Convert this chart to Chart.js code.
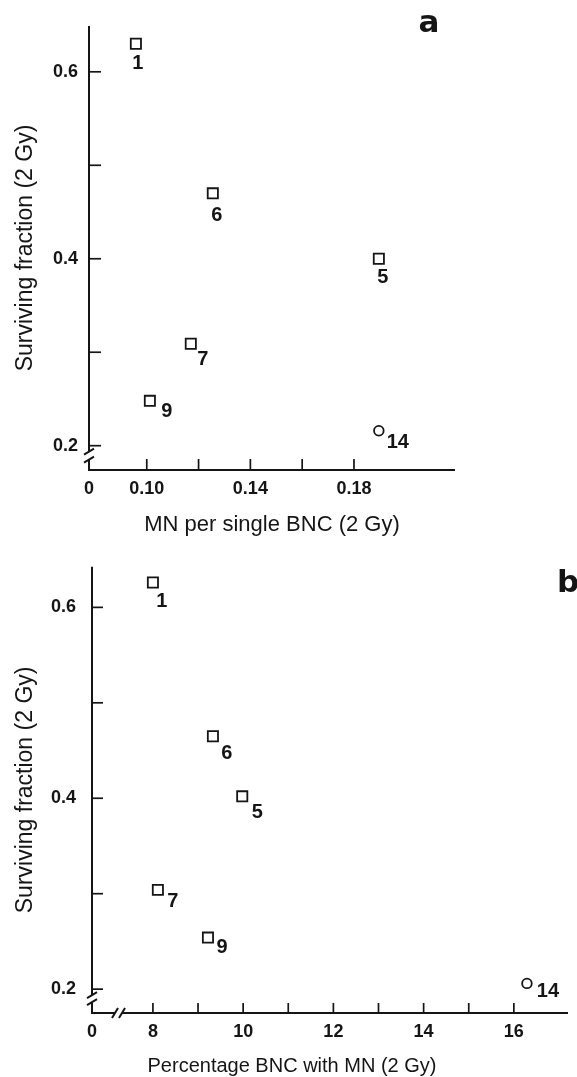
<!DOCTYPE html>
<html>
<head>
<meta charset="utf-8">
<script src="https://cdn.jsdelivr.net/npm/chart.js@4.4.1/dist/chart.umd.min.js"></script>
<style>
html, body { margin: 0; padding: 0; background: #fff; }
.panel { position: absolute; left: 0; width: 577px; }
#wrapA { top: 0; height: 540px; }
#wrapB { top: 540px; height: 537px; }
</style>
</head>
<body>
<div class="panel" id="wrapA"><canvas id="chartA"></canvas></div>
<div class="panel" id="wrapB"><canvas id="chartB"></canvas></div>
<script>
// values
const cellLines = ['1', '6', '5', '7', '9', '14'];
const pointShapes = ['rect', 'rect', 'rect', 'rect', 'rect', 'circle'];

const mnPerBnc = [0.0958, 0.1255, 0.1896, 0.117, 0.1012, 0.1896];
const survivingA = [0.630, 0.470, 0.400, 0.309, 0.248, 0.216];

const pctBncWithMn = [8.0, 9.33, 9.98, 8.11, 9.22, 16.29];
const survivingB = [0.626, 0.465, 0.402, 0.304, 0.254, 0.206];

const yTicks = [0.2, 0.3, 0.4, 0.5, 0.6];
const yTickLabels = ['0.2', '', '0.4', '', '0.6'];
const xTicksA = [0.10, 0.12, 0.14, 0.16, 0.18];
const xTickLabelsA = ['0.10', '', '0.14', '', '0.18'];
const xTicksB = [8, 9, 10, 11, 12, 13, 14, 15, 16];
const xTickLabelsB = ['8', '', '10', '', '12', '', '14', '', '16'];

// where each number sits next to its marker (px)
const labelOffsetA = [[2, 20], [4, 22], [4, 19], [12, 16], [17, 11], [19, 12]];
const labelOffsetB = [[9, 19], [14, 17], [15, 16], [15, 12], [14, 10], [21, 8]];

const FONT = '"Liberation Sans", Arial, Helvetica, sans-serif';
const INK = '#151515';

const decor = {
    id: 'decor',
    afterDatasetsDraw(chart, args, o) {
        const ctx = chart.ctx;
        const a = chart.chartArea;
        const x = chart.scales.x, y = chart.scales.y;
        const line = (x1, y1, x2, y2) => { ctx.beginPath(); ctx.moveTo(x1, y1); ctx.lineTo(x2, y2); ctx.stroke(); };
        ctx.save();
        ctx.strokeStyle = INK;
        ctx.lineCap = 'butt';

        // inner tick marks
        ctx.lineWidth = 1.7;
        x.ticks.forEach((t, i) => {
            if (i === 0) return;
            const px = x.getPixelForValue(t.value);
            line(px, a.bottom, px, a.bottom - o.xTickLen);
        });
        y.ticks.forEach(t => {
            const py = y.getPixelForValue(t.value);
            line(a.left, py, a.left + o.yTickLen, py);
        });

        // y axis with break
        ctx.lineWidth = 2;
        const yb = y.getPixelForValue(yTicks[0]);
        line(a.left, a.top, a.left, yb + o.yBreak[0]);
        line(a.left, yb + o.yBreak[1], a.left, a.bottom + 1);
        line(a.left - 5, yb + o.yBreak[0] + 3, a.left + 5, yb + o.yBreak[0] - 3);
        line(a.left - 5, yb + o.yBreak[1] + 3, a.left + 5, yb + o.yBreak[1] - 3);

        // x axis, optionally broken
        if (o.xBreak) {
            const x1 = a.left + o.xBreak[0], x2 = a.left + o.xBreak[1];
            line(a.left - 1, a.bottom, x1, a.bottom);
            line(x2, a.bottom, a.right, a.bottom);
            line(x1 - 3, a.bottom + 5, x1 + 3, a.bottom - 5);
            line(x2 - 3, a.bottom + 5, x2 + 3, a.bottom - 5);
        } else {
            line(a.left - 1, a.bottom, a.right, a.bottom);
        }

        // point numbers
        ctx.fillStyle = INK;
        ctx.font = 'bold 20px ' + FONT;
        ctx.textAlign = 'center';
        ctx.textBaseline = 'middle';
        chart.getDatasetMeta(0).data.forEach((pt, i) => {
            const off = o.offsets[i];
            ctx.fillText(cellLines[i], pt.x + off[0], pt.y + off[1]);
        });

        // x title drawn here when it is not centred on the axis
        if (o.xTitle) {
            ctx.font = o.xTitle.size + 'px ' + FONT;
            ctx.textBaseline = 'alphabetic';
            ctx.fillText(o.xTitle.text, (a.left + a.right) / 2 + o.xTitle.dx, a.bottom + o.xTitle.dy);
        }

        // panel letter
        ctx.font = 'bold 31px "DejaVu Sans", ' + FONT;
        ctx.textBaseline = 'alphabetic';
        ctx.fillText(o.letter, a.right + o.letterAt[0], a.top + o.letterAt[1]);
        ctx.restore();
    }
};

function buildPanel(p) {
    const ctx = document.getElementById(p.id).getContext('2d');
    const xVals = [p.xMin].concat(p.xTicks);
    const xLabels = ['0'].concat(p.xLabels);
    return new Chart(ctx, {
        type: 'scatter',
        data: {
            datasets: [{
                data: p.xs.map((v, i) => ({ x: v, y: p.ys[i] })),
                pointStyle: pointShapes,
                pointRadius: pointShapes.map(s => s === 'circle' ? 4.8 : 7.2),
                pointBorderColor: INK,
                pointBackgroundColor: 'rgba(255,255,255,0)',
                pointBorderWidth: 1.8,
                showLine: false,
                clip: false
            }]
        },
        options: {
            responsive: true,
            maintainAspectRatio: false,
            animation: false,
            events: [],
            layout: { padding: p.pad },
            plugins: { legend: { display: false }, tooltip: { enabled: false }, decor: p.decor },
            scales: {
                x: {
                    type: 'linear',
                    min: p.xMin,
                    max: p.xMax,
                    border: { display: false },
                    grid: { display: false, drawTicks: false },
                    afterBuildTicks: s => { s.ticks = xVals.map(v => ({ value: v })); },
                    afterFit: s => { s.height = p.xHeight; },
                    ticks: {
                        autoSkip: false,
                        maxRotation: 0,
                        padding: p.xPad,
                        color: INK,
                        font: { family: FONT, size: 18, weight: 'bold' },
                        callback: (v, i) => xLabels[i]
                    },
                    title: {
                        display: !!p.xTitle,
                        text: p.xTitle || '',
                        color: INK,
                        font: { family: FONT, size: 22 },
                        padding: { top: 0, bottom: p.xTitlePad }
                    }
                },
                y: {
                    type: 'linear',
                    min: p.yMin,
                    max: p.yMax,
                    border: { display: false },
                    grid: { display: false, drawTicks: false },
                    afterBuildTicks: s => { s.ticks = yTicks.map(v => ({ value: v })); },
                    afterFit: s => { s.width = p.yWidth; },
                    ticks: {
                        padding: p.yPad,
                        color: INK,
                        font: { family: FONT, size: 18, weight: 'bold' },
                        callback: (v, i) => yTickLabels[i]
                    },
                    title: {
                        display: true,
                        text: 'Surviving fraction (2 Gy)',
                        color: INK,
                        font: { family: FONT, size: 23 },
                        padding: { top: 12, bottom: 0 }
                    }
                }
            }
        },
        plugins: [decor]
    });
}

buildPanel({
    id: 'chartA',
    xs: mnPerBnc, ys: survivingA,
    xMin: 0.0777, xMax: 0.219, yMin: 0.174, yMax: 0.649,
    xTicks: xTicksA, xLabels: xTickLabelsA,
    xTitle: 'MN per single BNC (2 Gy)',
    pad: { left: 0, right: 122, top: 26, bottom: 0 },
    xHeight: 70, yWidth: 89, xPad: 8, yPad: 11, xTitlePad: 2,
    decor: { xTickLen: 11, yTickLen: 12, yBreak: [6, 14], xBreak: null,
             offsets: labelOffsetA, letter: 'a', letterAt: [-26, 6] }
});

buildPanel({
    id: 'chartB',
    xs: pctBncWithMn, ys: survivingB,
    xMin: 6.65, xMax: 17.2, yMin: 0.175, yMax: 0.6425,
    xTicks: xTicksB, xLabels: xTickLabelsB,
    xTitle: null,
    pad: { left: 0, right: 9, top: 22, bottom: 0 },
    xHeight: 64, yWidth: 92, xPad: 8, yPad: 16, xTitlePad: 0,
    decor: { xTickLen: 10, yTickLen: 11, yBreak: [6, 13], xBreak: [23, 30],
             xTitle: { text: 'Percentage BNC with MN (2 Gy)', size: 20, dx: -38, dy: 59 },
             offsets: labelOffsetB, letter: 'b', letterAt: [0, 25] }
});
</script>
</body>
</html>
